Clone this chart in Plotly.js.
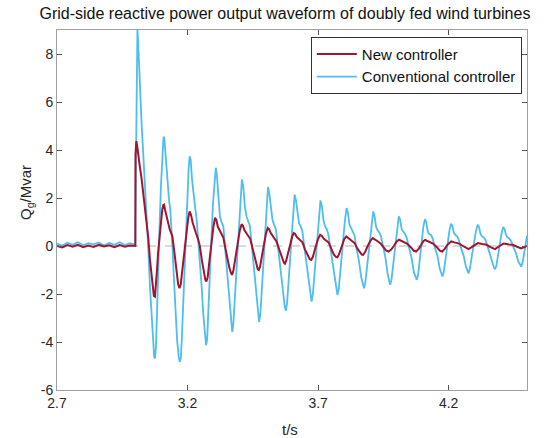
<!DOCTYPE html>
<html>
<head>
<meta charset="utf-8">
<script src="https://cdn.plot.ly/plotly-3.0.1.min.js"></script>
<style>html,body{margin:0;padding:0;background:#fff;}#chart{width:547px;height:438px;}</style>
</head>
<body>
<div id="chart"></div>
<script>
// Time (s) and reactive power (Mvar)
const convT = [2.70,2.72,2.74,2.76,2.78,2.80,2.82,2.84,2.86,2.88,2.90,2.92,2.94,2.96,2.98,2.997,
  3.000,3.003,3.006,3.008,3.011,3.017,3.024,3.030,3.037,3.043,3.050,3.056,3.062,3.068,3.072,3.075,3.079,3.083,3.087,3.093,3.098,3.104,3.108,
  3.111,3.115,3.119,3.124,3.129,3.134,3.138,3.143,3.148,3.154,3.160,3.166,3.170,3.174,3.178,3.186,3.192,3.198,3.204,3.208,
  3.212,3.217,3.222,3.228,3.235,3.241,3.247,3.254,3.260,3.266,3.271,3.275,3.281,3.289,3.297,3.304,3.308,
  3.312,3.318,3.324,3.330,3.337,3.344,3.352,3.360,3.367,3.371,3.375,3.383,3.394,3.402,3.408,
  3.413,3.420,3.426,3.432,3.439,3.447,3.455,3.463,3.470,3.474,3.479,3.486,3.495,3.503,3.508,
  3.513,3.519,3.525,3.531,3.538,3.546,3.555,3.564,3.572,3.576,3.581,3.588,3.597,3.605,3.610,
  3.615,3.621,3.627,3.634,3.640,3.648,3.656,3.664,3.671,3.675,3.680,3.687,3.695,3.703,3.709,
  3.714,3.720,3.726,3.733,3.739,3.747,3.755,3.764,3.770,3.774,3.779,3.786,3.795,3.803,3.809,
  3.814,3.820,3.826,3.833,3.839,3.847,3.856,3.865,3.872,3.876,3.881,3.888,3.897,3.905,3.911,
  3.916,3.922,3.928,3.935,3.941,3.950,3.958,3.967,3.973,3.976,3.981,3.988,3.995,4.003,4.009,
  4.014,4.020,4.026,4.033,4.039,4.048,4.058,4.067,4.074,4.078,4.083,4.089,4.095,4.103,4.109,
  4.114,4.120,4.126,4.133,4.139,4.148,4.157,4.166,4.172,4.176,4.181,4.188,4.195,4.203,4.209,
  4.214,4.220,4.226,4.233,4.239,4.248,4.257,4.266,4.272,4.276,4.281,4.288,4.296,4.304,4.311,
  4.316,4.322,4.328,4.335,4.341,4.350,4.358,4.367,4.374,4.378,4.383,4.389,4.395,4.403,4.409,
  4.414,4.420,4.426,4.433,4.439,4.448,4.458,4.467,4.474,4.478,4.484,4.492,4.500];
const convQ = [0.10,0.02,0.14,0.05,0.16,0.03,0.12,0.07,0.15,0.02,0.13,0.05,0.16,0.04,0.12,0.08,
  0.05,4.0,8.2,9.05,8.4,6.67,5.1,3.89,2.6,1.10,-0.2,-1.69,-3.0,-4.1,-4.6,-4.69,-4.2,-2.8,-1.0,0.9,2.49,3.9,4.55,
  4.5,3.9,3.19,2.5,1.93,1.5,0.82,-0.2,-1.41,-2.8,-3.92,-4.6,-4.83,-4.7,-3.9,-1.69,0.1,1.79,3.2,3.74,
  3.6,2.8,2.21,1.7,1.10,0.3,-0.58,-1.7,-2.81,-3.7,-4.13,-3.9,-2.6,-0.3,1.7,2.9,3.26,
  3.0,1.9,1.23,1.0,0.82,-0.1,-1.2,-2.3,-3.2,-3.58,-3.3,-1.7,0.54,2.0,2.77,
  2.5,1.6,1.23,1.0,0.82,-0.1,-1.0,-2.1,-2.9,-3.16,-2.8,-1.5,0.4,1.8,2.46,
  2.2,1.5,1.1,0.9,0.7,0.0,-0.9,-1.9,-2.5,-2.70,-2.4,-1.3,0.3,1.6,2.14,
  1.9,1.3,0.95,0.8,0.6,-0.1,-0.8,-1.6,-2.15,-2.32,-2.0,-1.0,0.2,1.3,1.9,
  1.7,1.1,0.85,0.7,0.5,-0.1,-0.7,-1.5,-1.9,-2.04,-1.8,-0.9,0.2,1.1,1.58,
  1.4,0.9,0.75,0.6,0.45,-0.1,-0.6,-1.3,-1.65,-1.76,-1.5,-0.8,0.2,1.0,1.44,
  1.25,0.8,0.65,0.55,0.4,-0.1,-0.5,-1.2,-1.55,-1.62,-1.4,-0.7,0.1,0.9,1.24,
  1.1,0.7,0.6,0.5,0.35,-0.1,-0.5,-1.1,-1.35,-1.41,-1.2,-0.6,0.1,0.8,1.12,
  1.0,0.6,0.5,0.45,0.3,-0.1,-0.4,-0.95,-1.2,-1.27,-1.1,-0.5,0.05,0.65,0.93,
  0.85,0.55,0.45,0.4,0.25,-0.1,-0.4,-0.85,-1.07,-1.14,-0.95,-0.45,0.05,0.6,0.89,
  0.8,0.5,0.4,0.35,0.25,-0.05,-0.35,-0.75,-0.92,-0.97,-0.8,-0.4,0.05,0.55,0.79,
  0.7,0.45,0.35,0.3,0.2,-0.05,-0.3,-0.65,-0.82,-0.86,-0.65,-0.1,0.43];

const newT = [2.70,2.72,2.74,2.76,2.78,2.80,2.82,2.84,2.86,2.88,2.90,2.92,2.94,2.96,2.98,2.997,
  3.000,3.0005,3.002,3.004,3.008,3.012,3.017,3.024,3.030,3.037,3.043,3.050,3.056,3.062,3.067,3.071,3.075,3.079,3.083,3.087,
  3.093,3.098,3.103,3.107,3.110,3.114,3.119,3.125,3.132,3.137,3.142,3.150,3.158,3.164,3.169,3.174,3.181,3.190,
  3.197,3.203,3.208,3.213,3.220,3.226,3.232,3.240,3.247,3.255,3.262,3.268,3.272,3.277,3.284,3.292,
  3.299,3.305,3.310,3.316,3.322,3.330,3.337,3.345,3.352,3.360,3.367,3.371,3.376,3.383,3.392,
  3.400,3.407,3.412,3.418,3.425,3.432,3.440,3.448,3.455,3.463,3.469,3.473,3.478,3.485,3.493,
  3.500,3.507,3.512,3.518,3.525,3.533,3.540,3.548,3.555,3.563,3.569,3.573,3.578,3.586,3.594,
  3.601,3.607,3.612,3.618,3.625,3.632,3.640,3.650,3.660,3.668,3.674,3.680,3.690,
  3.700,3.708,3.714,3.722,3.730,3.740,3.750,3.760,3.768,3.774,3.780,3.790,
  3.800,3.808,3.815,3.825,3.833,3.840,3.850,3.860,3.867,3.872,3.880,3.890,
  3.900,3.909,3.917,3.928,3.940,3.950,3.960,3.970,3.980,3.990,
  4.000,4.010,4.020,4.030,4.040,4.055,4.067,4.075,4.085,4.095,
  4.103,4.110,4.120,4.130,4.140,4.155,4.167,4.175,4.185,4.195,
  4.203,4.210,4.222,4.240,4.258,4.270,4.276,4.288,4.300,4.312,4.328,4.345,4.360,4.378,4.392,
  4.410,4.428,4.445,4.462,4.478,4.490,4.500];
const newQ = [0.00,-0.06,0.04,-0.03,0.05,-0.05,0.02,-0.04,0.05,-0.02,0.03,-0.05,0.04,-0.03,0.02,0.00,
  0.00,3.80,4.2,4.37,4.1,3.7,3.33,2.8,2.21,1.7,1.10,0.3,-0.58,-1.3,-1.85,-2.08,-2.11,-1.7,-1.0,-0.30,
  0.5,1.10,1.5,1.7,1.72,1.5,1.23,0.9,0.68,0.55,0.40,-0.3,-1.13,-1.6,-1.76,-1.6,-0.9,0.00,
  0.7,1.2,1.44,1.3,0.96,0.7,0.54,0.3,0.00,-0.6,-1.1,-1.4,-1.48,-1.3,-0.6,0.2,
  0.8,1.17,1.1,0.8,0.65,0.5,0.35,-0.1,-0.5,-0.9,-1.15,-1.2,-1.0,-0.5,0.2,
  0.65,0.91,0.85,0.65,0.55,0.42,0.3,-0.05,-0.4,-0.8,-0.97,-1.00,-0.85,-0.4,0.15,
  0.5,0.75,0.7,0.55,0.45,0.3,0.2,-0.05,-0.3,-0.55,-0.7,-0.74,-0.6,-0.25,0.15,
  0.4,0.54,0.5,0.38,0.3,0.22,0.15,-0.15,-0.4,-0.55,-0.58,-0.45,-0.05,
  0.3,0.47,0.42,0.3,0.22,0.15,-0.1,-0.35,-0.45,-0.47,-0.35,0.0,
  0.28,0.40,0.35,0.25,0.18,0.12,-0.1,-0.28,-0.36,-0.37,-0.25,0.0,
  0.22,0.33,0.28,0.2,0.10,-0.05,-0.18,-0.23,-0.15,0.0,
  0.18,0.26,0.2,0.15,0.10,-0.05,-0.2,-0.23,-0.12,0.05,
  0.2,0.25,0.2,0.15,0.10,-0.05,-0.2,-0.23,-0.12,0.05,
  0.15,0.19,0.15,0.10,-0.02,-0.1,-0.13,-0.05,0.05,0.12,0.08,0.05,-0.05,-0.13,-0.02,
  0.10,0.07,0.05,-0.03,-0.10,-0.05,0.00];

const xTicks = [2.7, 3.2, 3.7, 4.2];
const yTicks = [-6, -4, -2, 0, 2, 4, 6, 8];
const seriesNames = ['New controller', 'Conventional controller'];

const FONT = 'Liberation Sans, Arial, sans-serif';

const traces = [
  {x: [2.7, 4.5], y: [0, 0], mode: 'lines', showlegend: false, hoverinfo: 'skip',
   line: {color: '#b3b3b3', width: 1, dash: 'dash'}},
  {x: convT, y: convQ, mode: 'lines', name: seriesNames[1],
   line: {color: '#4DBEEE', width: 1.8}},
  {x: newT, y: newQ, mode: 'lines', name: seriesNames[0],
   line: {color: '#A2142F', width: 2}}
];

const axisCommon = {
  showgrid: false, zeroline: false, showline: true, mirror: 'ticks',
  linecolor: '#a0a0a0', linewidth: 1, ticks: 'inside', ticklen: 5,
  tickcolor: '#555', tickfont: {family: FONT, size: 14, color: '#262626'}
};

const layout = {
  width: 547, height: 438,
  margin: {l: 57, r: 20, t: 30, b: 48},
  paper_bgcolor: '#fff', plot_bgcolor: '#fff',
  font: {family: FONT, color: '#262626'},
  title: {text: 'Grid-side reactive power output waveform of doubly fed wind turbines',
    font: {family: FONT, size: 16, color: '#111'},
    xref: 'paper', x: 0.485, xanchor: 'center', y: 0.970, yanchor: 'middle'},
  xaxis: Object.assign({}, axisCommon, {range: [2.7, 4.5], tickvals: xTicks,
    ticktext: xTicks.map(v => v.toFixed(1))}),
  yaxis: Object.assign({}, axisCommon, {range: [-6, 9], tickvals: yTicks,
    ticktext: yTicks.map(v => String(v))}),
  showlegend: true,
  legend: {x: 0.54, y: 0.981, xanchor: 'left', yanchor: 'top', traceorder: 'reversed',
    bgcolor: '#fff', bordercolor: '#333', borderwidth: 1, itemwidth: 40,
    font: {family: FONT, size: 15, color: '#111'}},
  annotations: [
    {text: 'Q<sub>g</sub>/Mvar', xref: 'paper', yref: 'paper', x: -0.064, y: 0.55,
     textangle: -90, showarrow: false, xanchor: 'center', yanchor: 'middle',
     font: {family: FONT, size: 15, color: '#262626'}},
    {text: 't/s', xref: 'paper', yref: 'paper', x: 0.496, y: -0.111,
     showarrow: false, xanchor: 'center', yanchor: 'middle',
     font: {family: FONT, size: 15, color: '#262626'}}
  ]
};

Plotly.newPlot('chart', traces, layout, {displayModeBar: false, staticPlot: true});
</script>
</body>
</html>
